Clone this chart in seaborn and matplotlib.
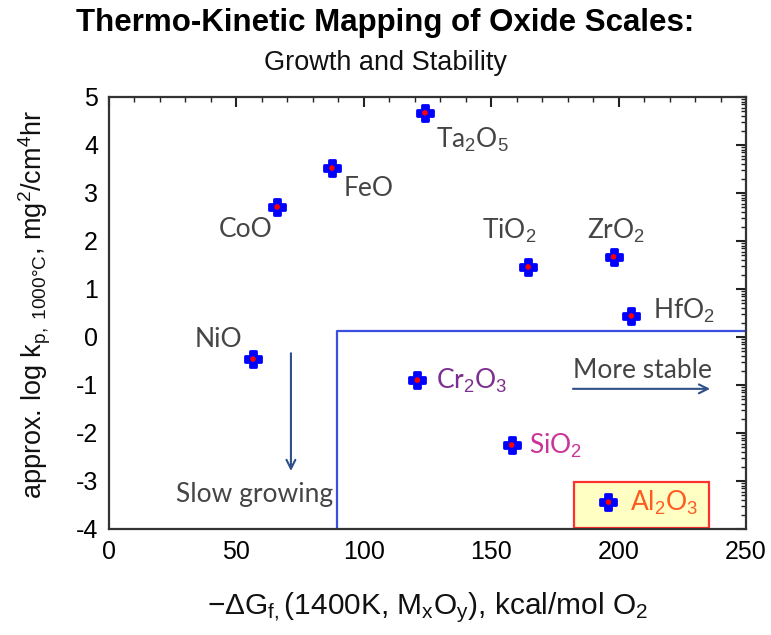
import matplotlib
matplotlib.use("Agg")
import matplotlib.pyplot as plt
import matplotlib.ticker as mticker
from matplotlib.patches import Rectangle
import numpy as np
import pandas as pd
import seaborn as sns

# ---- data ----
oxides = ["NiO", "CoO", "FeO", "Ta2O5", "TiO2", "ZrO2", "HfO2", "Cr2O3", "SiO2", "Al2O3"]
labels = ["NiO", "CoO", "FeO", r"Ta$_2$O$_5$", r"TiO$_2$", r"ZrO$_2$", r"HfO$_2$",
          r"Cr$_2$O$_3$", r"SiO$_2$", r"Al$_2$O$_3$"]
neg_dG = [56.5, 66, 87.5, 124, 164.5, 198, 205, 121, 158, 196]
log_kp = [-0.46, 2.71, 3.52, 4.67, 1.46, 1.67, 0.44, -0.90, -2.25, -3.44]
label_colors = ["#454545"] * 7 + ["#7d2f8f", "#cc3399", "#ff5a1f"]
# label anchor positions (data coords) and alignment
label_pos = [(43, -0.06, "center"), (53.5, 2.23, "center"), (92, 3.1, "left"),
             (128.5, 4.1, "left"), (157, 2.2, "center"), (199, 2.2, "center"),
             (213.5, 0.55, "left"), (128.5, -0.92, "left"), (165, -2.27, "left"),
             (204.5, -3.45, "left")]
boundary_x = [89.5, 89.5, 250]
boundary_y = [-4, 0.13, 0.13]
xticks = [0, 50, 100, 150, 200, 250]
yticks = [-4, -3, -2, -1, 0, 1, 2, 3, 4, 5]

df = pd.DataFrame({"oxide": oxides, "dG": neg_dG, "kp": log_kp})

sns.set_theme(style="white")
plt.rcParams["font.family"] = ["Liberation Sans", "DejaVu Sans"]
plt.rcParams["axes.unicode_minus"] = False
plt.rcParams["mathtext.fontset"] = "custom"
plt.rcParams["mathtext.rm"] = "Liberation Sans"
plt.rcParams["mathtext.it"] = "Liberation Sans:italic"
plt.rcParams["mathtext.bf"] = "Liberation Sans:bold"

fig = plt.figure(figsize=(7.71, 6.35), dpi=100)
ax = fig.add_axes([109 / 771, 1 - 529 / 635, 637 / 771, 432 / 635])

# boundary line
ax.plot(boundary_x, boundary_y, color="#3a4ee0", lw=1.6, zorder=2)

# Al2O3 highlight box
ax.add_patch(Rectangle((182.5, -3.98), 53, 0.96, facecolor="#ffffc4",
                       edgecolor="#ff3030", lw=1.6, zorder=1))

sns.scatterplot(data=df, x="dG", y="kp", marker="P", s=135, color="#0000ff",
                edgecolor="#0000ff", linewidth=2.0, joinstyle="round", ax=ax, zorder=4)
sns.scatterplot(data=df, x="dG", y="kp", marker="o", s=16, color="#ff0000",
                edgecolor="none", ax=ax, zorder=5)

lab_font = ["Lato", "DejaVu Sans"]
for lab, col, (lx, ly, ha) in zip(labels, label_colors, label_pos):
    ax.text(lx, ly, lab, color=col, ha=ha, va="center", fontsize=19,
            family=lab_font, zorder=6)

# arrows
arrow_col = "#2f4f88"
ax.annotate("", xy=(71.4, -2.85), xytext=(71.4, -0.28),
            arrowprops=dict(arrowstyle="->", color=arrow_col, lw=1.5,
                            mutation_scale=16))
ax.text(57, -3.28, "Slow growing", color="#454545", ha="center", va="center",
        fontsize=19, family=lab_font)
ax.annotate("", xy=(237, -1.08), xytext=(181, -1.08),
            arrowprops=dict(arrowstyle="->", color=arrow_col, lw=1.5,
                            mutation_scale=16))
ax.text(209.5, -0.70, "More stable", color="#454545", ha="center", va="center",
        fontsize=19, family=lab_font)

ax.set_xlim(0, 250)
ax.set_ylim(-4, 5)
ax.set_xticks(xticks)
ax.set_yticks(yticks)
ax.xaxis.set_minor_locator(mticker.MultipleLocator(10))
ymin = [n + np.log10(k) for n in range(-4, 5) for k in range(2, 10)]
ax.yaxis.set_minor_locator(mticker.FixedLocator(ymin))
ax.tick_params(which="both", direction="in", top=True, right=True,
               color="#222222", labelsize=18, labelcolor="#000000")
ax.tick_params(which="major", length=7, width=1.5, pad=8)
ax.tick_params(which="minor", length=3.5, width=1.0)
for sp in ax.spines.values():
    sp.set_color("#333333")
    sp.set_linewidth(1.6)

ax.set_xlabel(r"−ΔG$_{\mathrm{f,}}$(1400K, M$_{\mathrm{x}}$O$_{\mathrm{y}}$), kcal/mol O$_2$",
              fontsize=21.5, color="#111111")
ax.set_ylabel(r"approx. log k$_{\mathrm{p,\ 1000°C}}$, mg$^2$/cm$^4$hr",
              fontsize=19.5, color="#111111")
ax.xaxis.set_label_coords(0.5, -0.142)
ax.yaxis.set_label_coords(-0.088, 0.52)

fig.text(0.5, 1 - 23 / 635, "Thermo-Kinetic Mapping of Oxide Scales:", ha="center",
         va="center", fontsize=22.5, fontweight="bold", color="#000000")
fig.text(0.5, 1 - 63 / 635, "Growth and Stability", ha="center", va="center",
         fontsize=19.5, color="#111111")

fig.savefig("out.png", dpi=100)
